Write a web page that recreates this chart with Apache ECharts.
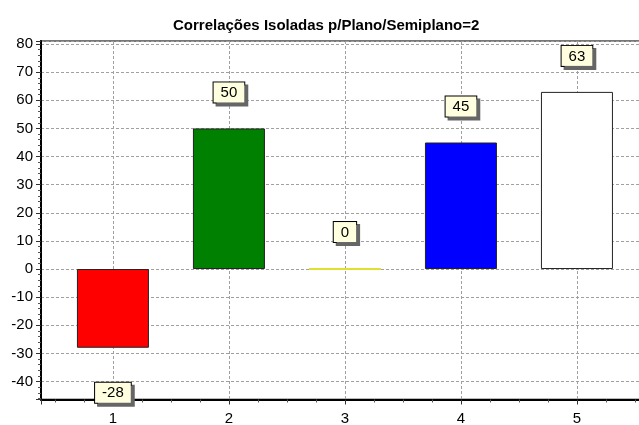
<!DOCTYPE html>
<html>
<head>
<meta charset="utf-8">
<script src="https://cdn.jsdelivr.net/npm/echarts@6/dist/echarts.min.js"></script>
<style>
  html, body { margin: 0; padding: 0; background: #fff; }
  #chart { width: 639px; height: 425px; }
</style>
</head>
<body>
<div id="chart"></div>
<script>
const title = 'Correlações Isoladas p/Plano/Semiplano=2'
const categories = [1, 2, 3, 4, 5]
const values = [-28, 50, 0, 45, 63]
const barColors = ['#ff0000', '#008000', '#e0e030', '#0000ff', '#ffffff']

const chart = echarts.init(document.getElementById('chart'))

const barData = categories.map((c, i) => ({
  value: [c, values[i]],
  itemStyle: {
    color: barColors[i],
    borderColor: values[i] === 0 ? barColors[i] : '#222',
    borderWidth: values[i] === 0 ? 2 : 1
  },
  label: values[i] < 0
    ? { position: 'bottom', distance: 35 }
    : { position: 'top', distance: 26 }
}))

chart.setOption({
  animation: false,
  textStyle: { fontFamily: 'Liberation Sans, Arial, sans-serif' },
  title: {
    text: title,
    left: 168,
    top: 13,
    textStyle: { fontSize: 15, fontWeight: 'bold', color: '#000' }
  },
  grid: {
    left: 41, right: -5, top: 41, bottom: 25.5,
    outerBoundsMode: 'none',
    show: true, borderColor: '#777', borderWidth: 2, backgroundColor: '#fff'
  },
  xAxis: {
    type: 'value',
    min: 0.38,
    max: 5.578,
    axisLine: { onZero: false, lineStyle: { color: '#000', width: 2 } },
    axisTick: { length: 5, lineStyle: { color: '#333' } },
    minorTick: { show: true, splitNumber: 4, length: 3, lineStyle: { color: '#555' } },
    axisLabel: {
      color: '#000', fontSize: 15, margin: 12,
      formatter: v => Number.isInteger(v) ? String(v) : ''
    },
    splitLine: { show: true, lineStyle: { color: '#a0a0a0', type: [3, 2] } }
  },
  yAxis: {
    type: 'value',
    min: -46.4,
    max: 81.1,
    splitNumber: 13,
    axisLine: { show: true, onZero: false, lineStyle: { color: '#000', width: 2 } },
    axisTick: { show: true, length: 5, lineStyle: { color: '#333' } },
    minorTick: { show: true, splitNumber: 5, length: 3, lineStyle: { color: '#555' } },
    axisLabel: {
      color: '#000', fontSize: 15, margin: 8,
      formatter: v => v % 10 === 0 ? String(v) : ''
    },
    splitLine: { show: true, lineStyle: { color: '#a0a0a0', type: [3, 2] } }
  },
  series: [{
    type: 'bar',
    barWidth: 72,
    data: barData,
    label: {
      show: true,
      formatter: p => String(p.value[1]),
      color: '#000',
      fontSize: 15,
      backgroundColor: '#ffffe0',
      borderColor: '#000',
      borderWidth: 1,
      padding: [3, 7, 2, 7],
      shadowColor: '#666',
      shadowOffsetX: 3,
      shadowOffsetY: 3,
      shadowBlur: 0
    }
  }]
})
</script>
</body>
</html>
